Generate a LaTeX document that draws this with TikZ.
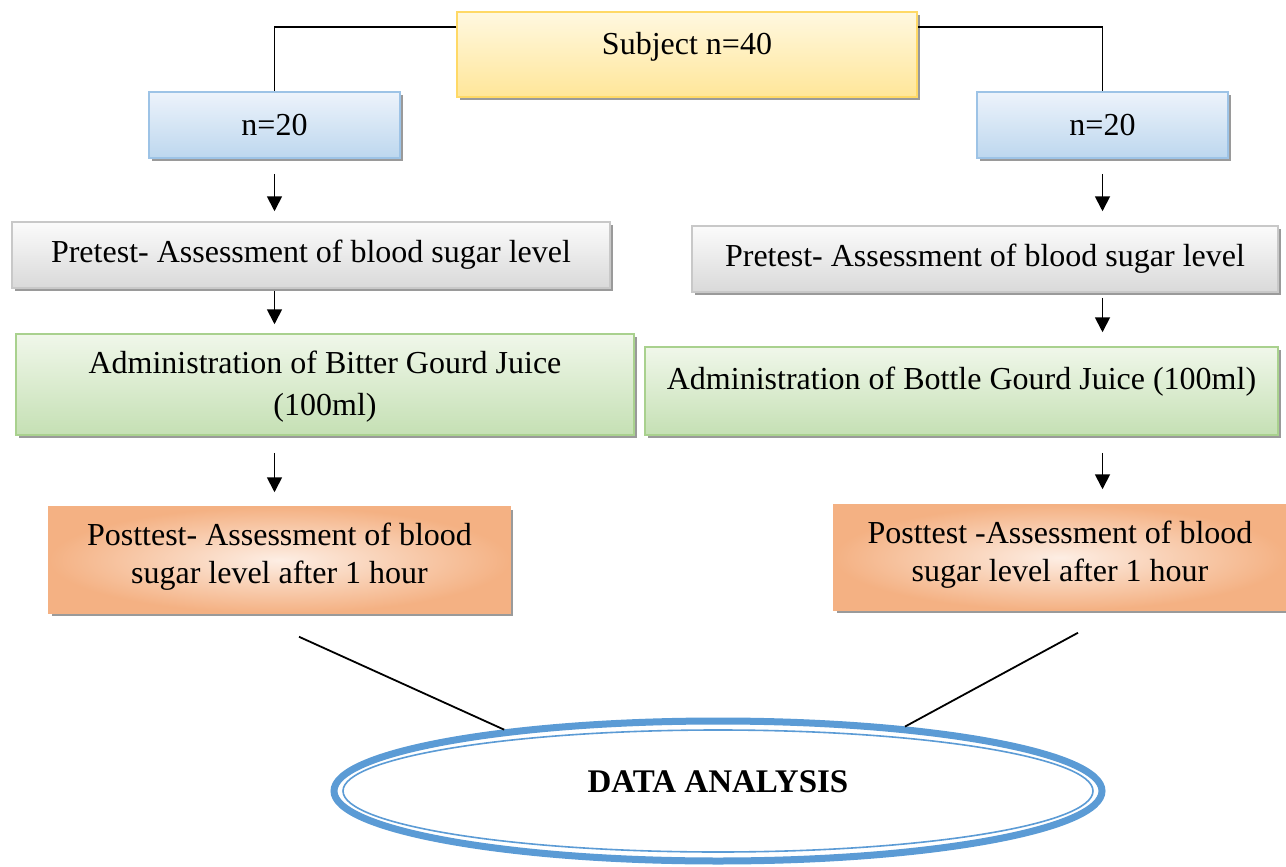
\documentclass[tikz,border=0pt]{standalone}
\usepackage{fontspec}
\setmainfont{Liberation Serif}
\usetikzlibrary{shadows,calc,arrows.meta,shapes.geometric}
\definecolor{ylTop}{HTML}{FFF8E0}
\definecolor{ylBot}{HTML}{FFE699}
\definecolor{ylLine}{HTML}{FFD966}
\definecolor{blTop}{HTML}{EDF3FB}
\definecolor{blBot}{HTML}{BDD7EE}
\definecolor{blLine}{HTML}{9DC3E6}
\definecolor{grTop}{HTML}{FBFBFB}
\definecolor{grBot}{HTML}{D9D9D9}
\definecolor{grLine}{HTML}{C8C8C8}
\definecolor{gnTop}{HTML}{F0F7EA}
\definecolor{gnBot}{HTML}{C5E0B4}
\definecolor{gnLine}{HTML}{A9D18E}
\definecolor{orIn}{HTML}{FDEEE4}
\definecolor{orOut}{HTML}{F4B183}
\definecolor{ellBlue}{HTML}{5B9BD5}
\definecolor{shadowGray}{HTML}{9A9A9A}
\begin{document}
\begin{tikzpicture}[x=1pt,y=-1pt,
  box/.style={rectangle, inner sep=0pt, line width=1.5pt,
    drop shadow={shadow xshift=3pt,shadow yshift=-3pt,fill=shadowGray,opacity=1}},
  txt/.style={font=\fontsize{32}{38}\selectfont, align=center, inner sep=0pt},
  yellowbox/.style={box, draw=ylLine, top color=ylTop, bottom color=ylBot},
  bluebox/.style={box, draw=blLine, top color=blTop, bottom color=blBot},
  graybox/.style={box, draw=grLine, top color=grTop, bottom color=grBot},
  greenbox/.style={box, draw=gnLine, top color=gnTop, bottom color=gnBot},
  orangebox/.style={box, draw=orOut, inner color=orIn, outer color=orOut, shading=radial},
  conn/.style={line width=1.8pt, black},
  arr/.style={line width=1.8pt, black, -{Triangle[width=15pt,length=15pt]}}]
\useasboundingbox (0,0) rectangle (1286,867);

\node[yellowbox, minimum width=460pt, minimum height=85pt,
  label={[txt, yshift=8pt]center:Subject n=40}] (subj) at (687,54.5) {};
\node[bluebox, minimum width=251pt, minimum height=66pt,
  label={[txt]center:n=20}] (n20L) at (274.5,125) {};
\node[bluebox, minimum width=251pt, minimum height=66pt,
  label={[txt]center:n=20}] (n20R) at (1102.5,125) {};

\node[graybox, minimum width=598pt, minimum height=66pt,
  label={[txt]center:Pretest- Assessment of blood sugar level}] (preL) at (311,255) {};
\node[graybox, minimum width=586pt, minimum height=66pt,
  label={[txt]center:Pretest- Assessment of blood sugar level}] (preR) at (985,259) {};

\node[greenbox, minimum width=618pt, minimum height=101pt,
  label={[txt, yshift=-2pt]center:Administration of Bitter Gourd Juice\\[4pt](100ml)}] (bitter) at (325,384.5) {};
\node[greenbox, minimum width=633pt, minimum height=88pt,
  label={[txt, yshift=9pt]center:Administration of Bottle Gourd Juice (100ml)}] (bottle) at (961.5,391) {};

\node[orangebox, minimum width=461pt, minimum height=106pt,
  label={[txt, yshift=3pt]center:Posttest- Assessment of blood\\sugar level after 1 hour}] (postL) at (279.5,560) {};
\node[orangebox, minimum width=452pt, minimum height=105pt,
  label={[txt, yshift=3pt]center:Posttest -Assessment of blood\\sugar level after 1 hour}] (postR) at (1060,557.5) {};

\node[ellipse, draw=ellBlue, line width=7pt, fill=white, inner sep=0pt,
  minimum width=768pt, minimum height=140pt,
  label={[txt, font=\fontsize{33}{38}\selectfont\bfseries, yshift=9pt]center:DATA ANALYSIS}] (da) at (718,791) {};
\draw[ellBlue, line width=1.6pt] (da.center) ellipse [x radius=375, y radius=61];

% top connectors
\coordinate (sL) at ($(subj.north west)+(0,16)$);
\coordinate (sR) at ($(subj.north east)+(0,16)$);
\draw[conn] (sL) -| (n20L.north);
\draw[conn] (sR) -| (n20R.north);

% arrows left
\draw[arr, shorten <=15pt, shorten >=10pt] (n20L.south) -- (n20L.south |- preL.north);
\draw[arr, shorten <=2pt, shorten >=9pt] (preL.south -| n20L.south) -- (bitter.north -| n20L.south);
\draw[arr, shorten <=17pt, shorten >=14pt] (bitter.south -| n20L.south) -- (postL.north -| n20L.south);
% arrows right
\draw[arr, shorten <=15pt, shorten >=14pt] (n20R.south) -- (n20R.south |- preR.north);
\draw[arr, shorten <=5pt, shorten >=14pt] (preR.south -| n20R.south) -- (bottle.north -| n20R.south);
\draw[arr, shorten <=17pt, shorten >=15pt] (bottle.south -| n20R.south) -- (postR.north -| n20R.south);

% lines to data analysis
\coordinate (dl) at ($(postL.south)+(19.5,23)$);
\coordinate (dr) at ($(postR.south)+(18,22)$);
\draw[conn] (dl) -- (da.164);
\draw[conn] (dr) -- (da.19);
\end{tikzpicture}
\end{document}
